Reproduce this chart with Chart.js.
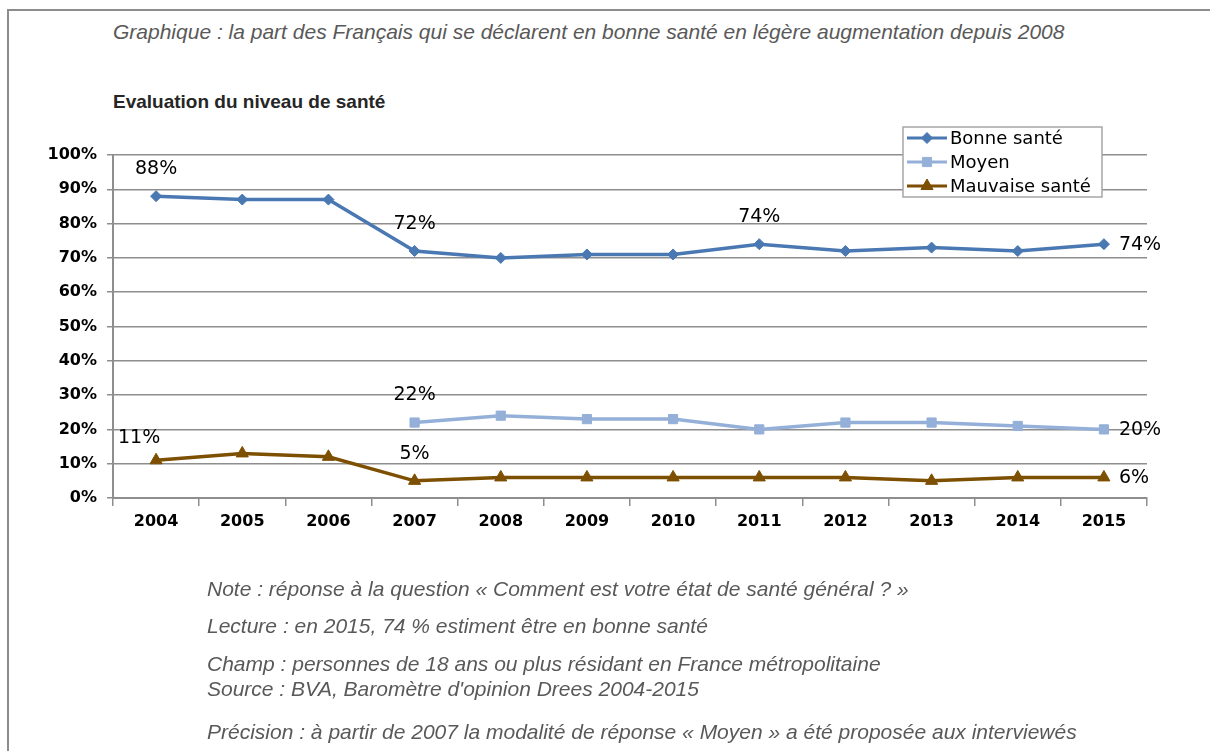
<!DOCTYPE html>
<html>
<head>
<meta charset="utf-8">
<script src="https://cdn.jsdelivr.net/npm/chart.js@4.4.1/dist/chart.umd.min.js"></script>
<style>
  html, body { margin: 0; padding: 0; background: #fff; }
  body { width: 1210px; height: 751px; position: relative; overflow: hidden; }
  .frame { position: absolute; left: 7px; top: 9px; width: 1300px; height: 900px;
           border-top: 2px solid #8c8c8c; border-left: 2px solid #8c8c8c; }
  .note { position: absolute; font-family: "Liberation Sans Narrow", "Arial Narrow", "Liberation Sans", sans-serif;
          font-style: italic; color: #595959; font-size: 21px; white-space: nowrap; }
  .sub { position: absolute; left: 113px; top: 91px; font-family: "Liberation Sans Narrow", "Arial Narrow", sans-serif;
         font-weight: bold; font-size: 19px; color: #262626; }
  canvas { position: absolute; left: 0; top: 0; }
</style>
</head>
<body>
<div class="frame"></div>
<div class="note" style="left:113px; top:20px;">Graphique : la part des Français qui se déclarent en bonne santé en légère augmentation depuis 2008</div>
<div class="sub">Evaluation du niveau de santé</div>
<canvas id="c" width="1210" height="751"></canvas>
<div class="note" style="left:207px; top:577px;">Note : réponse à la question « Comment est votre état de santé général ? »</div>
<div class="note" style="left:207px; top:614px;">Lecture : en 2015, 74 % estiment être en bonne santé</div>
<div class="note" style="left:207px; top:652px;">Champ : personnes de 18 ans ou plus résidant en France métropolitaine</div>
<div class="note" style="left:207px; top:677px;">Source : BVA, Baromètre d'opinion Drees 2004-2015</div>
<div class="note" style="left:207px; top:720px;">Précision : à partir de 2007 la modalité de réponse « Moyen » a été proposée aux interviewés</div>
<script>
'use strict';

// ── Data ───────────────────────────────────────────────────────────────────
const YEARS     = ['2004','2005','2006','2007','2008','2009','2010','2011','2012','2013','2014','2015'];
const BONNE     = [88, 87, 87, 72, 70, 71, 71, 74, 72, 73, 72, 74];
const MOYEN     = [null, null, null, 22, 24, 23, 23, 20, 22, 22, 21, 20];
const MAUVAISE  = [11, 13, 12, 5, 6, 6, 6, 6, 6, 5, 6, 6];
const Y_TICKS   = [0, 10, 20, 30, 40, 50, 60, 70, 80, 90, 100];

const COLORS = { bonne: '#4a78b2', moyen: '#95b0d8', mauvaise: '#7d4f00', grid: '#8e8e8e' };

// labels shown on the chart: [dataset, index, placement]
const SHOWN = [
  [0, 0, 'above'], [0, 3, 'above'], [0, 7, 'above'], [0, 11, 'right'],
  [1, 3, 'above'], [1, 11, 'right'],
  [2, 0, 'aboveLeft'], [2, 3, 'above'], [2, 11, 'right'],
];

const valueLabels = {
  id: 'valueLabels',
  afterDatasetsDraw(chart) {
    const ctx = chart.ctx;
    ctx.save();
    ctx.font = '19px "DejaVu Sans", sans-serif';
    ctx.fillStyle = '#000';
    ctx.textBaseline = 'middle';
    SHOWN.forEach(([d, i, where]) => {
      const pt = chart.getDatasetMeta(d).data[i];
      const v = chart.data.datasets[d].data[i] + '%';
      if (where === 'right') {
        ctx.textAlign = 'left';
        ctx.fillText(v, pt.x + 15, pt.y + 1);
      } else if (where === 'aboveLeft') {
        ctx.textAlign = 'center';
        ctx.fillText(v, pt.x - 17, pt.y - 22);
      } else {
        ctx.textAlign = 'center';
        ctx.fillText(v, pt.x, pt.y - 27);
      }
    });
    ctx.restore();
  }
};

const boxLegend = {
  id: 'boxLegend',
  afterDraw(chart) {
    const ctx = chart.ctx;
    const x = 903, y = 127, w = 199, h = 70;
    ctx.save();
    ctx.fillStyle = '#fff';
    ctx.fillRect(x, y, w, h);
    ctx.strokeStyle = '#a6a6a6';
    ctx.lineWidth = 1.5;
    ctx.strokeRect(x, y, w, h);
    ctx.font = '18px "DejaVu Sans", sans-serif';
    ctx.textBaseline = 'middle';
    ctx.textAlign = 'left';
    chart.data.datasets.forEach((ds, k) => {
      const ly = y + 11 + k * 24;
      ctx.strokeStyle = ds.borderColor;
      ctx.lineWidth = 3;
      ctx.beginPath();
      ctx.moveTo(x + 4, ly);
      ctx.lineTo(x + 44, ly);
      ctx.stroke();
      ctx.fillStyle = ds.borderColor;
      ctx.lineWidth = 1;
      Chart.helpers.drawPoint(ctx, { pointStyle: ds.pointStyle, radius: ds.pointRadius, borderWidth: 1 }, x + 24, ly);
      ctx.fillStyle = '#000';
      ctx.fillText(ds.label, x + 47, ly + 1);
    });
    ctx.restore();
  }
};

function series(label, data, color, style, radius) {
  return {
    label, data,
    borderColor: color, backgroundColor: color,
    pointBackgroundColor: color, pointBorderColor: color,
    borderWidth: 3.5, pointStyle: style, pointRadius: radius, pointBorderWidth: 1,
    tension: 0, spanGaps: false,
  };
}

const TICK_FONT = { family: '"DejaVu Sans", sans-serif', size: 16, weight: 'bold' };

new Chart(document.getElementById('c'), {
  type: 'line',
  data: {
    labels: YEARS,
    datasets: [
      series('Bonne santé', BONNE, COLORS.bonne, 'rectRot', 5.5),
      series('Moyen', MOYEN, COLORS.moyen, 'rect', 6.5),
      series('Mauvaise santé', MAUVAISE, COLORS.mauvaise, 'triangle', 7),
    ],
  },
  options: {
    responsive: false,
    animation: false,
    layout: { padding: { left: 40, right: 63, top: 155, bottom: 213 } },
    plugins: { legend: { display: false }, tooltip: { enabled: false } },
    scales: {
      x: {
        offset: true,
        grid: { offset: true, drawOnChartArea: false, drawTicks: true, tickLength: 8, color: COLORS.grid, lineWidth: 1.5 },
        border: { color: COLORS.grid, width: 2 },
        ticks: { color: '#000', font: TICK_FONT, padding: 6, maxRotation: 0 },
        afterFit: (s) => { s.height = 40; },
      },
      y: {
        min: 0, max: 100,
        afterBuildTicks: (s) => { s.ticks = Y_TICKS.map(v => ({ value: v })); },
        grid: { color: COLORS.grid, lineWidth: 1.5, tickLength: 6 },
        border: { color: COLORS.grid, width: 2 },
        ticks: { color: '#000', font: TICK_FONT, padding: 10, callback: (v) => v + '%' },
        afterFit: (s) => { s.width = 73; },
      },
    },
  },
  plugins: [valueLabels, boxLegend],
});
</script>
</body>
</html>
